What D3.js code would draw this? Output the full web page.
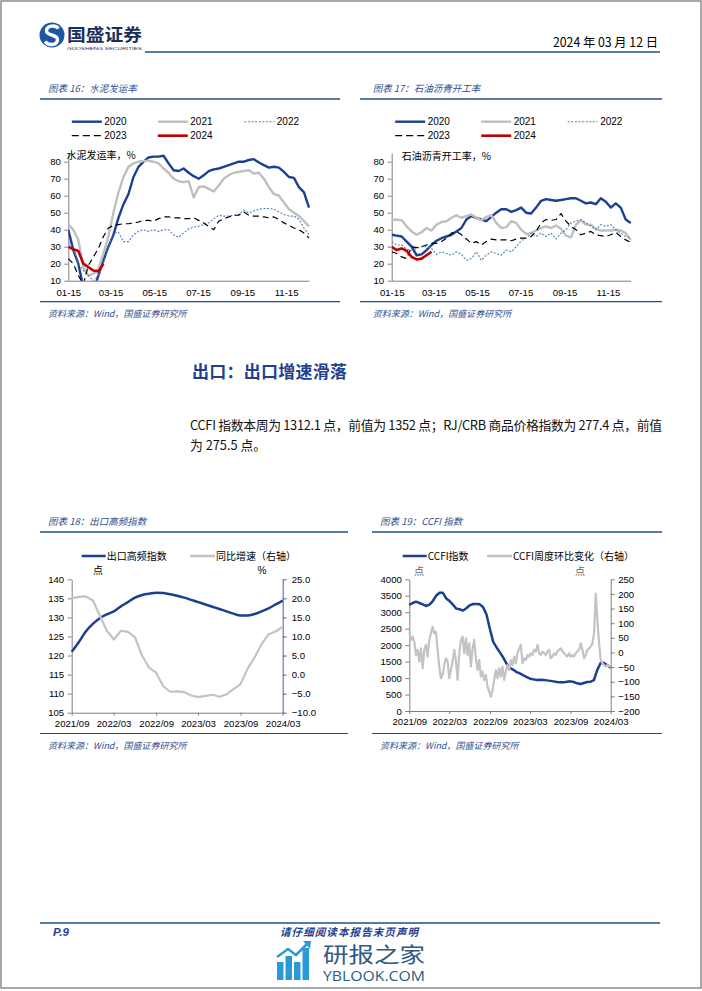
<!DOCTYPE html>
<html><head><meta charset="utf-8">
<script src="https://cdn.jsdelivr.net/npm/d3@7/dist/d3.min.js"></script>
<style>
body{margin:0;background:#fff;}
svg{display:block;font-family:"Liberation Sans",Arial,"Noto Sans CJK SC",sans-serif;}
</style></head><body>
<script>
// ---------------- DATA ----------------
const seasonTicks = ["01-15","03-15","05-15","07-15","09-15","11-15"];
const seasonYears = ["2020","2021","2022","2023","2024"];
// 水泥发运率 weekly from 01-15
const cement2020 = [40,28,20,6,3,4,13,22,30,37,47,55,61,71,77,80,82.5,83,83,83.5,79,75,74.5,76,73.5,71.5,70,72,74.5,75.5,76,77,78,79,80,80,81,81.5,79.5,78,76.5,77,76.5,74,71,70.5,65,62,53];
const cement2021 = [43,40,34,18,13,14,17,26,36,50,62,71,77,79,80,80.5,80.5,80,79,76,73.5,70,68.5,68,68.5,59,65,65.5,64,62.5,66,70,72,73.5,74,74.5,75,73,73.5,70,65,61,60,56,52,50,48,45,42];
const cement2022 = [33,29,20,16,13,10,13,20,30,38,38.5,33,33,37,39,40,39,40,39,40,40,37,35.5,38,40.5,41.5,42,43,44,46.5,48.5,48,48,48.5,49,51.5,50,51,52,52.5,52.5,52,50.5,49,48,48,46,41,37];
const cement2023 = [23,20,13,8,19,24,29,36,41,42.5,43,43.5,43.5,44,44.5,45.5,45.5,45,46.5,47.5,47.5,47,47,46.5,46.5,47,45.5,44,42,40,45,46.5,47.5,48.5,48.5,50.5,48.5,48,48,47.5,47,47.5,46,44,42.5,41,40,38,35];
const cement2024 = [30,28.5,27.5,20,18,16,15.5,20];
// 石油沥青开工率 weekly from 01-15
const asphalt2020 = [37,36.5,36,33,30,25,25.5,28,31,33.5,35,36,37,39,41,46,48,47,46,45,47.5,50,52,52,50.5,51.5,53,50,49.5,53,57,58,57.5,57,57.5,58,58.5,58.5,57,55.5,56,55,58.5,56.5,53,55.5,53,46,44];
const asphalt2021 = [45.5,46,45.5,42,39,37,38.5,41,39.5,43,44.5,45,47,48.5,47,48,49,47,45.5,47.5,48.5,44,41,41.5,45,44,40,37.5,38,39.5,41,42,41,42.5,40.5,36.5,35.5,43,45.5,43,43,40.5,39.5,39.5,39.5,40,39.5,38,34];
const asphalt2022 = [33,31,31,28.5,28,29,30,30,29,25.5,27,26,25,27,25.5,22,23,27,22,25,27,26,25,28,27,30,33.5,35,38,36,38,36,38,34.5,38,40,44,45,46,44,42,40,43,42,43,40,38,36,35];
const asphalt2023 = [27,26,24,23,30,29.5,30,31,32,32,33,35,38,39,37,34.5,32,33,31,33,34.5,34,34,34,33.5,34.5,35,35,36,39,44,46,45.5,46,49.5,45,42,40,37,38,39,37,36.5,36,37,38.5,36,34,32.5];
const asphalt2024 = [30,28,29,27.5,24,22.5,23,25,27];
// 出口高频指数 monthly 2021/09 - 2024/03
const dualTicks = ["2021/09","2022/03","2022/09","2023/03","2023/09","2024/03"];
const exportIndex = [121.0,123.5,126.3,128.3,129.8,130.8,131.6,132.9,134.0,135.2,135.9,136.2,136.5,136.4,136.1,135.7,135.2,134.6,134.0,133.4,132.8,132.2,131.6,131.0,130.5,130.5,130.9,131.6,132.4,133.4,134.4];
const exportYoY = [20.0,20.4,20.5,19.5,15.5,11.5,9.2,11.5,11.2,9.8,5.0,1.8,0.5,-3.0,-4.5,-4.4,-4.6,-5.5,-5.9,-5.6,-5.3,-5.8,-5.2,-3.8,-2.5,1.5,4.5,8.0,10.6,11.3,12.6];
// CCFI half-monthly, and weekly change
const ccfiIndex = [3220,3280,3320,3280,3240,3190,3230,3340,3500,3590,3590,3420,3340,3230,3110,3090,3050,3120,3210,3250,3250,3240,3150,2930,2500,2100,1930,1780,1620,1430,1310,1250,1180,1140,1080,1030,980,960,940,950,940,930,915,900,880,870,870,890,900,880,840,820,850,880,890,940,1250,1460,1460,1390,1312];
const ccfiChange = [71,43,54,37,-9,9,-31,14,-54,9,26,-14,43,65,88,65,71,9,-48,-88,-77,-43,-20,-31,-88,-60,-31,9,-26,-94,-3,43,54,-3,48,-9,31,-48,14,43,-20,-60,-26,-83,-65,-94,-77,-117,-134,-151,-128,-94,-60,-88,-54,-83,-48,-94,-65,-43,-60,-26,-43,-14,-37,-3,14,26,-37,-20,-26,-9,-14,-3,-9,9,3,26,-3,-9,3,-3,-9,3,9,-20,-14,-3,-9,3,9,14,3,-3,-9,-14,-3,-14,-9,-14,-3,3,9,31,9,-20,-9,9,14,20,31,65,200,111,31,-26,-37,-43,-48,-43,-48,-48];

// ---------------- STYLE ----------------
const W=702,H=991;
const NAVY="#1f4e8c", TBLUE="#2f4f8f", DBLUE="#1b3f91", LGRAY="#bfbfbf", DOTB="#4f81bd", RED="#c00000";
const CJK='"Noto Sans CJK SC",sans-serif';
const LAT='"Liberation Sans",Arial,sans-serif';
const svg=d3.select("body").append("svg").attr("width",W).attr("height",H);
svg.append("rect").attr("x",1).attr("y",1).attr("width",700).attr("height",987)
  .attr("fill","#fff").attr("stroke","#8c8c8c").attr("stroke-width",1.5);

function txt(g,x,y,s,o){const t=g.append("text").attr("x",x).attr("y",y).text(s);
  for(const k in (o||{})) t.attr(k,o[k]); return t;}

// ---------------- HEADER ----------------
const hdr=svg.append("g");
hdr.append("circle").attr("cx",52).attr("cy",35).attr("r",12.5).attr("fill","#1d56a5");
hdr.append("path").attr("d","M58.5,28.5 C55,24.5 46.5,25.5 46.5,31 C46.5,36 57.5,34 57.5,39.5 C57.5,45.5 48.5,46 45,41.5")
  .attr("fill","none").attr("stroke","#fff").attr("stroke-width",3.4);
txt(hdr,67,41,"国盛证券",{"font-family":CJK,"font-size":17,"font-weight":700,fill:"#1a2f5c",textLength:75,lengthAdjust:"spacingAndGlyphs"});
txt(hdr,67,49.5,"GUOSHENG SECURITIES",{"font-size":4.4,fill:"#1a2f5c",textLength:75,lengthAdjust:"spacingAndGlyphs"});
txt(hdr,658,47,"2024 年 03 月 12 日",{"text-anchor":"end","font-family":CJK,"font-size":12.5,fill:"#000",textLength:105,lengthAdjust:"spacingAndGlyphs"});
hdr.append("line").attr("x1",145).attr("x2",660).attr("y1",52).attr("y2",52).attr("stroke",NAVY).attr("stroke-width",1.6);

// ---------------- FRAMES ----------------
function frame(f){
  const g=svg.append("g");
  txt(g,f.tx,f.ty,f.title,{"font-family":CJK,"font-size":9.5,"font-style":"italic",fill:TBLUE});
  g.append("line").attr("x1",f.r0).attr("x2",f.r1).attr("y1",f.ry).attr("y2",f.ry).attr("stroke",NAVY).attr("stroke-width",1.4);
  g.append("line").attr("x1",f.r0).attr("x2",f.r1).attr("y1",f.sy).attr("y2",f.sy).attr("stroke",NAVY).attr("stroke-width",1.2);
  txt(g,f.tx,f.sy+15,"资料来源：Wind，国盛证券研究所",{"font-family":CJK,"font-size":9,"font-style":"italic",fill:TBLUE});
}
frame({title:"图表 16：水泥发运率",tx:48,ty:91.5,r0:40,r1:340,ry:99,sy:301.7});
frame({title:"图表 17：石油沥青开工率",tx:372.7,ty:91.5,r0:360,r1:662,ry:99,sy:301.7});
frame({title:"图表 18：出口高频指数",tx:48,ty:525,r0:40,r1:348,ry:532,sy:733.5});
frame({title:"图表 19：CCFI 指数",tx:380,ty:525,r0:372,r1:662,ry:532,sy:733.5});

function styleAxis(a,fs){
  a.selectAll("text").attr("font-size",fs).attr("fill","#000").attr("font-family",LAT);
  a.selectAll("line").attr("stroke","#808080");
  a.select(".domain").attr("stroke","#808080");
}

// ---------------- SEASONAL CHARTS ----------------
const seasonStart=new Date(2021,0,15);
const seasonTickDates=seasonTicks.map(s=>new Date(2021,+s.slice(0,2)-1,+s.slice(3)));
const seasonStyles=[
  {c:DBLUE,w:2.4,d:null},{c:LGRAY,w:2.4,d:null},{c:DOTB,w:1.1,d:"2,1.6"},{c:"#000",w:1.2,d:"6,4"},{c:RED,w:2.6,d:null}];
function seasonal(c){
  const g=svg.append("g");
  const x=d3.scaleTime().domain([seasonStart,d3.timeDay.offset(seasonStart,7*48)]).range([c.x0,c.x1]);
  const y=d3.scaleLinear().domain([10,85]).range([c.yb,c.yb-127.5]);
  const xa=g.append("g").attr("transform",`translate(0,${c.yb})`)
    .call(d3.axisBottom(x).tickValues(seasonTickDates).tickFormat((d,i)=>seasonTicks[i]).tickSize(0).tickSizeOuter(0).tickPadding(8));
  styleAxis(xa,9.6);
  const ya=g.append("g").attr("transform",`translate(${c.x0},0)`)
    .call(d3.axisLeft(y).tickValues(d3.range(10,81,10)).tickSize(4).tickSizeOuter(0).tickPadding(3.5));
  styleAxis(ya,9.6);
  const cid="clip"+c.id;
  g.append("clipPath").attr("id",cid).append("rect").attr("x",c.x0).attr("y",c.yb-135).attr("width",c.x1-c.x0+3).attr("height",135);
  const line=d3.line().x((d,i)=>x(d3.timeDay.offset(seasonStart,7*i))).y(d=>y(d));
  c.series.forEach((s,k)=>{
    const st=seasonStyles[k];
    g.append("path").datum(s).attr("clip-path",`url(#${cid})`).attr("d",line).attr("fill","none")
      .attr("stroke",st.c).attr("stroke-width",st.w).attr("stroke-dasharray",st.d).attr("stroke-linejoin","round");
  });
  txt(g,c.tX,c.tY,c.title,{"font-family":CJK,"font-size":10,fill:"#000"});
  // legend
  const cols=[3.5,89.5,176], rows=[121.7,135.7];
  seasonYears.forEach((yr,k)=>{
    const lx=c.x0+cols[k%3], ly=rows[Math.floor(k/3)], st=seasonStyles[k];
    g.append("line").attr("x1",lx).attr("x2",lx+30).attr("y1",ly).attr("y2",ly).attr("stroke",st.c)
      .attr("stroke-width",st.w).attr("stroke-dasharray",k===3?"7,4":st.d);
    txt(g,lx+32.5,ly+3.6,yr,{"font-size":10,fill:"#000"});
  });
}
seasonal({id:16,x0:68.3,x1:309,yb:280.7,series:[cement2020,cement2021,cement2022,cement2023,cement2024],title:"水泥发运率，%",tX:66.5,tY:159});
seasonal({id:17,x0:391.7,x1:630.7,yb:280.7,series:[asphalt2020,asphalt2021,asphalt2022,asphalt2023,asphalt2024],title:"石油沥青开工率，%",tX:401.7,tY:160});

// ---------------- TEXT SECTION ----------------
txt(svg,192,377.5,"出口：出口增速滑落",{"font-family":CJK,"font-size":17,"font-weight":700,fill:"#1f3f8f",textLength:155});
txt(svg,190,430,"CCFI 指数本周为 1312.1 点，前值为 1352 点；RJ/CRB 商品价格指数为 277.4 点，前值",{"font-family":CJK,"font-size":12.8,fill:"#111",textLength:472,lengthAdjust:"spacing"});
txt(svg,190,449.5,"为 275.5 点。",{"font-family":CJK,"font-size":12.8,fill:"#111"});

// ---------------- DUAL AXIS CHARTS ----------------
const dualStart=new Date(2021,8,1), dualEnd=new Date(2024,2,1);
const dualTickDates=dualTicks.map(s=>new Date(+s.slice(0,4),+s.slice(5)-1,1));
function dual(c){
  const g=svg.append("g");
  const x=d3.scaleTime().domain([dualStart,dualEnd]).range([c.x0,c.x1]);
  const yl=d3.scaleLinear().domain(c.ld).range([c.yb,c.yt]);
  const yr=d3.scaleLinear().domain(c.rd).range([c.yb,c.yt]);
  const xa=g.append("g").attr("transform",`translate(0,${c.yb})`)
    .call(d3.axisBottom(x).tickValues(dualTickDates).tickFormat((d,i)=>dualTicks[i]).tickSize(3).tickSizeOuter(0).tickPadding(4.5));
  styleAxis(xa,9.6);
  const la=g.append("g").attr("transform",`translate(${c.x0},0)`)
    .call(d3.axisLeft(yl).tickValues(d3.range(c.ld[0],c.ld[1]+0.01,c.ls)).tickFormat(d3.format("d")).tickSize(4).tickSizeOuter(0).tickPadding(3.5));
  styleAxis(la,9.6);
  const ra=g.append("g").attr("transform",`translate(${c.x1},0)`)
    .call(d3.axisRight(yr).tickValues(d3.range(c.rd[0],c.rd[1]+0.01,c.rs)).tickFormat(c.rf).tickSize(4).tickSizeOuter(0).tickPadding(c.rp));
  styleAxis(ra,9.6);
  if(c.rc){ra.select(".domain").attr("stroke",c.rc);ra.selectAll("line").attr("stroke",c.rc);}
  const tAt=(n,i)=>new Date(+dualStart+(dualEnd-dualStart)*i/(n-1));
  const lL=d3.line().x((d,i,a)=>x(tAt(a.length,i))).y(d=>yl(d)).curve(c.curve);
  const lR=d3.line().x((d,i,a)=>x(tAt(a.length,i))).y(d=>yr(d));
  g.append("path").datum(c.left).attr("d",d=>lL(d)).attr("fill","none").attr("stroke",DBLUE).attr("stroke-width",2.5).attr("stroke-linejoin","round");
  g.append("path").datum(c.right).attr("d",d=>lR(d)).attr("fill","none").attr("stroke","#c3c3c3").attr("stroke-width",2.2).attr("stroke-linejoin","round");
  // legend
  const ly=556;
  g.append("line").attr("x1",c.l1).attr("x2",c.l1+24).attr("y1",ly).attr("y2",ly).attr("stroke",DBLUE).attr("stroke-width",2.5);
  txt(g,c.l1+25,ly+3.5,c.n1,{"font-family":CJK,"font-size":10,fill:"#000"});
  g.append("line").attr("x1",c.l2).attr("x2",c.l2+25).attr("y1",ly).attr("y2",ly).attr("stroke","#c3c3c3").attr("stroke-width",2.5);
  txt(g,c.l2+26,ly+3.5,c.n2,{"font-family":CJK,"font-size":10,fill:"#000"});
  txt(g,c.u1x,c.uy,c.u1,{"font-family":CJK,"font-size":10,fill:c.ucol,"text-anchor":"middle"});
  txt(g,c.u2x,c.uy,c.u2,{"font-family":c.u2f,"font-size":10,fill:c.ucol,"text-anchor":"middle"});
}
dual({x0:71.7,x1:282.7,yb:712.7,yt:579.3,ld:[105,140],ls:5,rd:[-10,25],rs:5,rf:d3.format(".1f"),rp:5,rc:"#4a5ea8",
  left:exportIndex,right:exportYoY,curve:d3.curveMonotoneX,
  l1:81.7,n1:"出口高频指数",l2:190,n2:"同比增速（右轴）",u1:"点",u1x:98,u2:"%",u2f:LAT,u2x:262,uy:574,ucol:"#000"});
dual({x0:409.3,x1:610.7,yb:711,yt:579.3,ld:[0,4000],ls:500,rd:[-200,250],rs:50,rf:d3.format("d"),rp:3.5,rc:null,
  left:ccfiIndex,right:ccfiChange,curve:d3.curveLinear,
  l1:402.7,n1:"CCFI指数",l2:487,n2:"CCFI周度环比变化（右轴）",u1:"点",u1x:419,u2:"点",u2f:CJK,u2x:580,uy:575,ucol:"#666"});

// ---------------- FOOTER ----------------
svg.append("line").attr("x1",40).attr("x2",660).attr("y1",923).attr("y2",923).attr("stroke",NAVY).attr("stroke-width",1.6);
txt(svg,53,935.5,"P.9",{"font-size":11.5,"font-weight":700,"font-style":"italic",fill:"#1f3f8f"});
txt(svg,349,935.5,"请仔细阅读本报告末页声明",{"font-family":CJK,"font-size":10.5,"font-style":"italic","font-weight":700,fill:"#1f3f8f","text-anchor":"middle",textLength:138});
// watermark
const wm=svg.append("g");
[[277,962],[285.5,956],[294,962],[302.5,948]].forEach(([bx,by])=>{
  wm.append("rect").attr("x",bx).attr("y",by).attr("width",6.5).attr("height",980-by).attr("fill","#2a9ad6");});
wm.append("path").attr("d","M277,957 L288,949 L296,955 L307,944").attr("fill","none").attr("stroke","#2a9ad6").attr("stroke-width",2.5);
wm.append("path").attr("d","M303,941 L311,941 L310,949 Z").attr("fill","#2a9ad6");
txt(wm,323,961.5,"研报之家",{"font-family":CJK,"font-size":21,fill:"#2d5b86",textLength:102,lengthAdjust:"spacingAndGlyphs"});
txt(wm,323,981,"YBLOOK.COM",{"font-family":'"Open Sans",sans-serif',"font-size":14.5,fill:"#2d5b86",textLength:102,lengthAdjust:"spacingAndGlyphs"});
</script>
</body></html>
